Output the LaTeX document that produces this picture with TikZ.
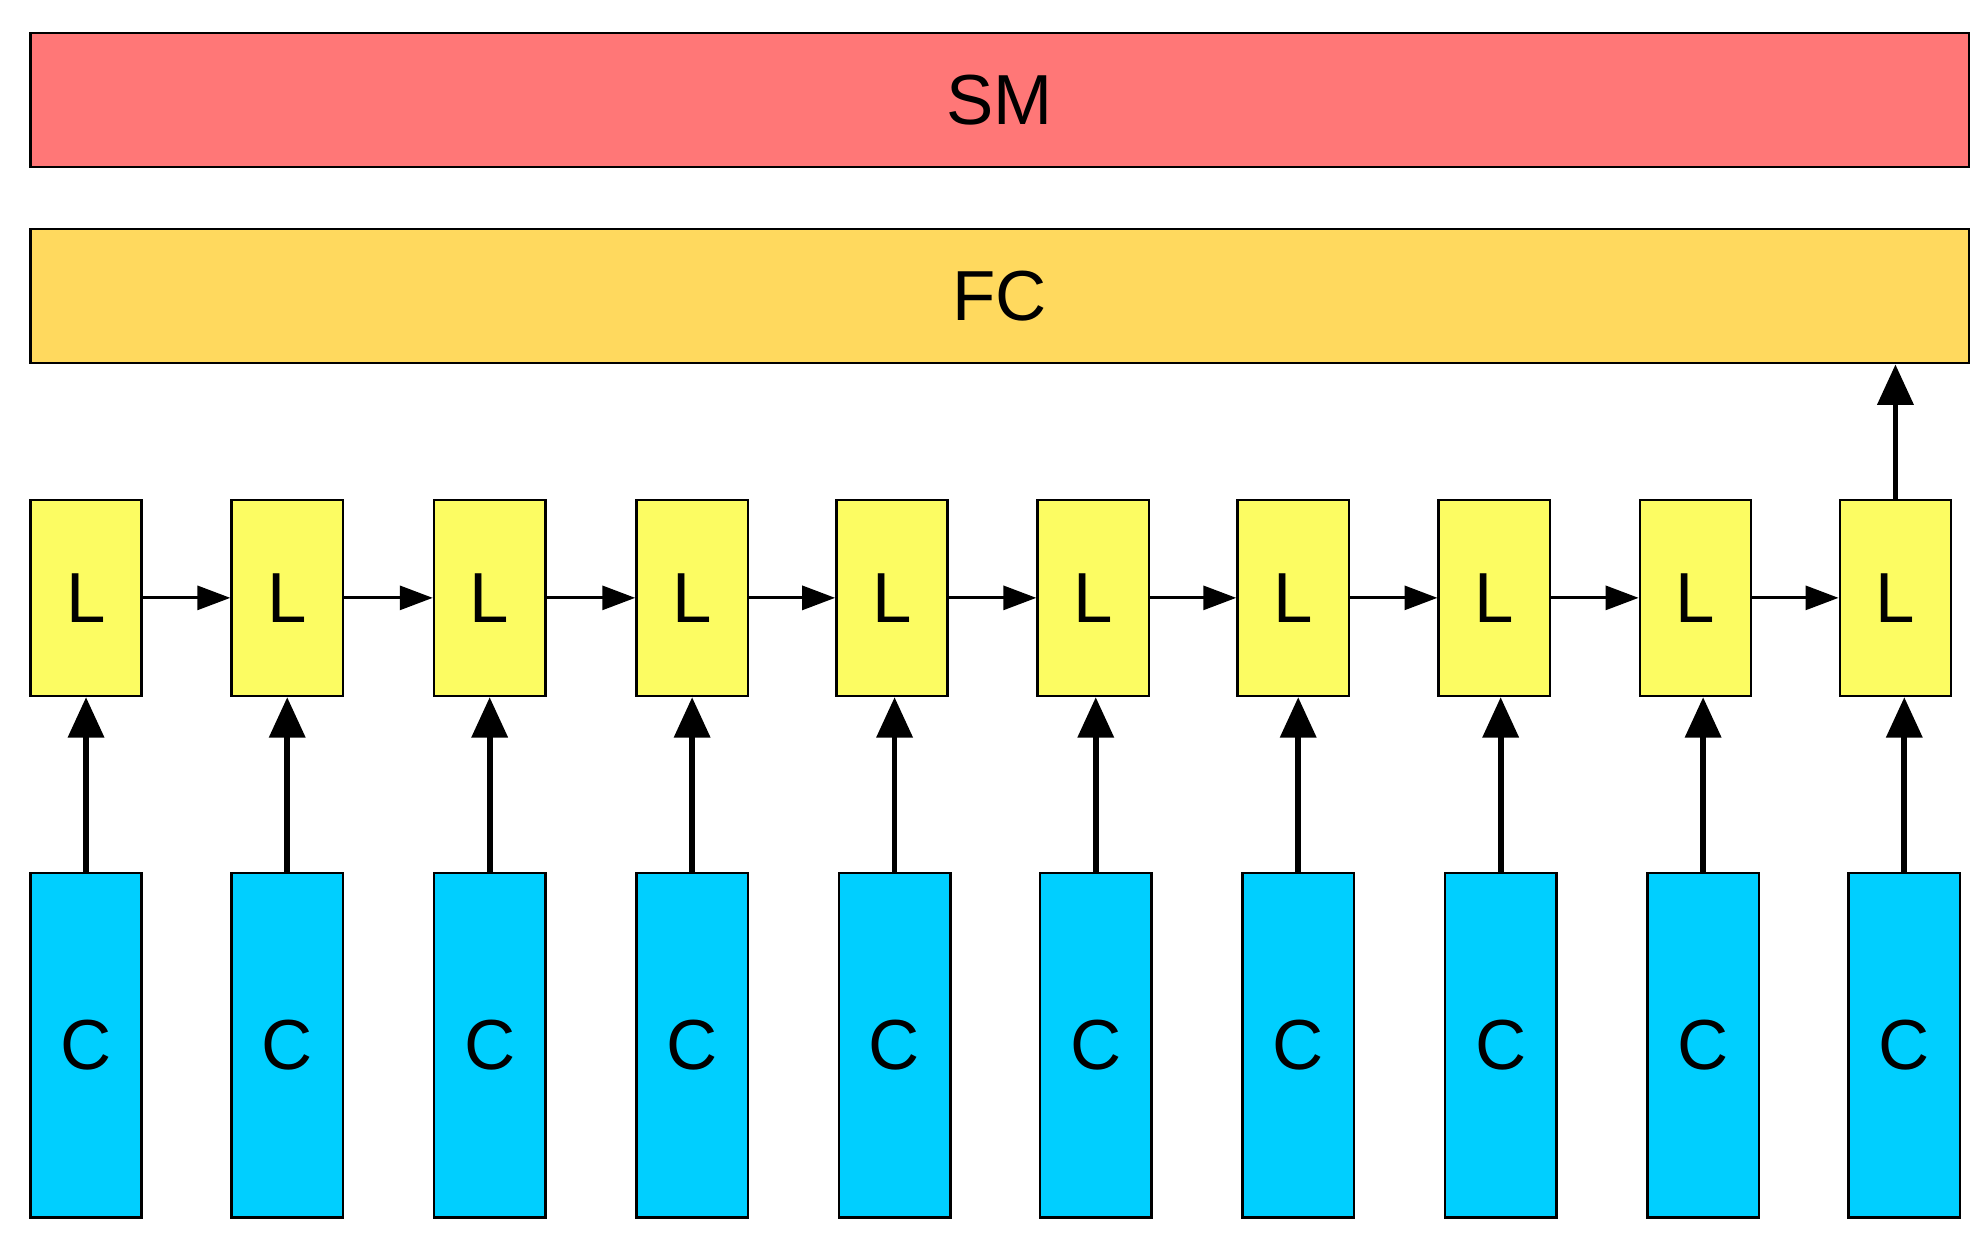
\documentclass[tikz,border=0pt]{standalone}
\usepackage{fontspec}
\setmainfont{Liberation Sans}
\usetikzlibrary{arrows.meta}
\definecolor{smc}{HTML}{FF7777}
\definecolor{fcc}{HTML}{FFD95E}
\definecolor{lc}{HTML}{FCFC62}
\definecolor{cc}{HTML}{00CFFF}
\begin{document}
\begin{tikzpicture}[x=1pt,y=-1pt,
  box/.style={draw=black,line width=2pt,inner sep=0pt,font=\fontsize{56}{64}\selectfont},
  va/.style={line width=4.5pt,-{Triangle[length=32pt,width=28pt]}},
  ha/.style={line width=2.2pt,-{Triangle[length=26pt,width=19pt]}}]
\useasboundingbox (0,0) rectangle (1568,985);
\node[box,fill=smc,minimum width=1532pt,minimum height=106pt] (sm) at (790,79) {SM};
\node[box,fill=fcc,minimum width=1532pt,minimum height=106pt] (fc) at (790,234) {FC};
\foreach \i/\lx/\cx in {1/24/24,2/183/183,3/343/343,4/503/503,5/661/663,6/820/822,7/978/982,8/1137/1142,9/1296/1302,10/1454/1461}{
  \node[box,fill=lc,minimum width=88pt,minimum height=155pt] (L\i) at (\lx+44,472.5) {L};
  \node[box,fill=cc,minimum width=88pt,minimum height=272pt] (C\i) at (\cx+44,826) {C};
  \draw[va] (C\i.north) -- (C\i.north |- L\i.south);
}
\foreach \i [evaluate=\i as \j using int(\i+1)] in {1,...,9}{
  \draw[ha] (L\i.east) -- (L\j.west);
}
\draw[va] (L10.north) -- (L10.north |- fc.south);
\end{tikzpicture}
\end{document}
